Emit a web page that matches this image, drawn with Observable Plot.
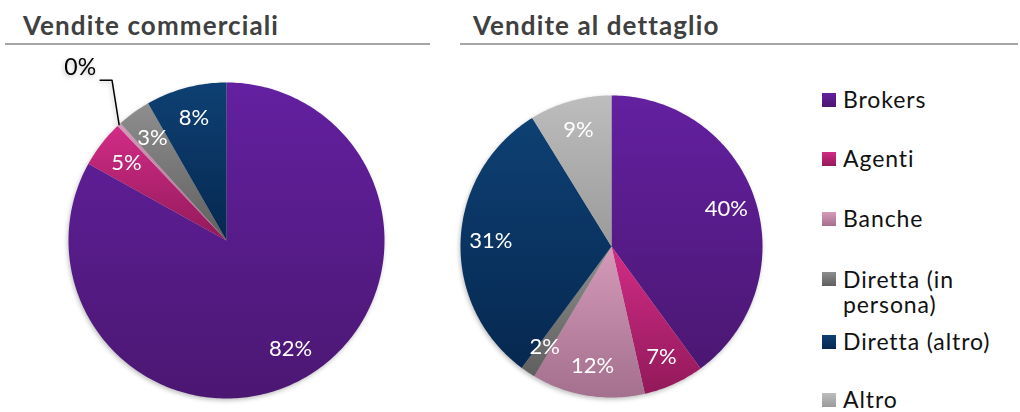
<!DOCTYPE html>
<html>
<head>
<meta charset="utf-8">
<script src="https://cdn.jsdelivr.net/npm/d3@7"></script>
<script src="https://cdn.jsdelivr.net/npm/@observablehq/plot@0.6"></script>
<style>
  html, body { margin: 0; padding: 0; background: #fff; }
  #root { position: relative; width: 1020px; height: 412px; overflow: hidden; font-family: Lato, "Open Sans", sans-serif; }
  .title { position: absolute; font-weight: 700; font-size: 26px; letter-spacing: 1.1px; color: #404040; white-space: nowrap; }
  .rule { position: absolute; height: 2px; background: #a6a6a6; }
  .pie { position: absolute; }
  .pie svg { overflow: visible; }
  .legend-item { position: absolute; font-size: 23px; letter-spacing: 0.9px; color: #111; line-height: 23px; white-space: nowrap; }
  .legend-item.two { line-height: 25px; }
  .legend-item .sw { position: absolute; left: -21px; top: 5px; width: 14px; height: 14px; }
</style>
</head>
<body>
<div id="root"></div>
<script>
// ---- data ----
const categories = ["Brokers", "Agenti", "Banche", "Diretta (in persona)", "Diretta (altro)", "Altro"];
const legendLabels = ["Brokers", "Agenti", "Banche", "Diretta (in<br>persona)", "Diretta (altro)", "Altro"];
const commercialValues = [82.4, 4.8, 0.4, 3.4, 8.2, 0];
const retailValues = [40, 6.5, 12.1, 1.6, 31.1, 8.8];
const titles = ["Vendite commerciali", "Vendite al dettaglio"];
// gradient colors (top, bottom) per category
const topColors = ["#6320a0", "#d22c86", "#d59ab9", "#8e8e8e", "#0e4073", "#bdbdbd"];
const bottomColors = ["#4b1772", "#92195a", "#a3708d", "#5f5f5f", "#062850", "#9a9a9a"];

const root = document.getElementById("root");

// gradient defs
const defsSvg = d3.select(root).append("svg").attr("width", 0).attr("height", 0).style("position", "absolute");
const defs = defsSvg.append("defs");
categories.forEach((c, i) => {
  const g = defs.append("linearGradient").attr("id", "grad" + i).attr("x1", 0).attr("y1", 0).attr("x2", 0).attr("y2", 1);
  g.append("stop").attr("offset", "0%").attr("stop-color", topColors[i]);
  g.append("stop").attr("offset", "100%").attr("stop-color", bottomColors[i]);
});
const fillRange = categories.map((c, i) => `url(#grad${i})`);

function sliceData(values) {
  const total = d3.sum(values);
  let cum = 0;
  const polys = [], labels = [];
  values.forEach((v, i) => {
    const a0 = cum / total * 2 * Math.PI;
    cum += v;
    const a1 = cum / total * 2 * Math.PI;
    if (v <= 0) return;
    const n = Math.max(2, Math.ceil((a1 - a0) / (Math.PI / 180)));
    polys.push({cat: categories[i], x: 0, y: 0});
    for (let k = 0; k <= n; k++) {
      const a = a0 + (a1 - a0) * k / n;
      polys.push({cat: categories[i], x: Math.sin(a), y: Math.cos(a)});
    }
    polys.push({cat: categories[i], x: 0, y: 0});
    const mid = (a0 + a1) / 2;
    labels.push({cat: categories[i], mid, text: Math.round(v) + "%", value: v});
  });
  return {polys, labels};
}

function pie(values, opts) {
  const {polys, labels} = sliceData(values);
  const inside = labels.filter(d => d.value >= 1);
  const outside = labels.filter(d => d.value < 1);
  const leader = [];
  const outText = [];
  outside.forEach(d => {
    const ex = Math.sin(d.mid), ey = Math.cos(d.mid);
    leader.push({cat: d.cat, x: ex, y: ey});
    leader.push({cat: d.cat, x: ex - 0.045, y: 1.015});
    leader.push({cat: d.cat, x: ex - 0.12, y: 1.015});
    outText.push({x: ex - 0.12, y: 1.015, text: d.text});
  });
  const r = opts.r;
  const w = opts.width, h = opts.height;
  const plot = Plot.plot({
    width: w, height: h,
    marginLeft: opts.cx - r, marginRight: w - opts.cx - r,
    marginTop: opts.cy - r, marginBottom: h - opts.cy - r,
    x: {domain: [-1, 1], axis: null},
    y: {domain: [-1, 1], axis: null},
    color: {domain: categories, range: fillRange},
    style: {fontFamily: "Lato, 'Open Sans', sans-serif", background: "transparent", overflow: "visible"},
    marks: [
      Plot.line(polys, {x: "x", y: "y", z: "cat", fill: "cat", stroke: "none", curve: "linear"}),
      Plot.text(inside, {x: d => 0.8 * Math.sin(d.mid), y: d => 0.8 * Math.cos(d.mid), text: "text", fill: "white", fontSize: 22, letterSpacing: 0.5}),
      Plot.line(leader, {x: "x", y: "y", z: "cat", stroke: "black", strokeWidth: 1.5}),
      Plot.text(outText, {x: "x", y: "y", text: "text", textAnchor: "end", dx: -4, dy: -13, fill: "black", fontSize: 23})
    ]
  });
  const div = document.createElement("div");
  div.className = "pie";
  div.style.left = opts.left + "px";
  div.style.top = opts.top + "px";
  plot.style.filter = "drop-shadow(-1px 2px 2px rgba(0,0,0,0.25))";
  div.appendChild(plot);
  root.appendChild(div);
}

// titles and rules
[[titles[0], 23, 9], [titles[1], 473, 9]].forEach(([t, x, y]) => {
  const d = document.createElement("div");
  d.className = "title"; d.textContent = t;
  d.style.left = x + "px"; d.style.top = y + "px";
  root.appendChild(d);
});
[[5, 430], [460, 1018]].forEach(([x0, x1]) => {
  const d = document.createElement("div");
  d.className = "rule"; d.style.left = x0 + "px"; d.style.width = (x1 - x0) + "px"; d.style.top = "43px";
  root.appendChild(d);
});

pie(commercialValues, {left: 0, top: 50, width: 440, height: 362, cx: 226, cy: 190, r: 158});
pie(retailValues, {left: 450, top: 80, width: 330, height: 332, cx: 161, cy: 166, r: 151});

// legend
const legendY = [88, 147, 207, 267, 330, 388];
categories.forEach((c, i) => {
  const d = document.createElement("div");
  d.className = "legend-item" + (legendLabels[i].includes("<br>") ? " two" : "");
  d.style.left = "843px"; d.style.top = legendY[i] + "px";
  d.innerHTML = `<span class="sw" style="background:linear-gradient(${topColors[i]}, ${bottomColors[i]})"></span>${legendLabels[i]}`;
  root.appendChild(d);
});
</script>
</body>
</html>
